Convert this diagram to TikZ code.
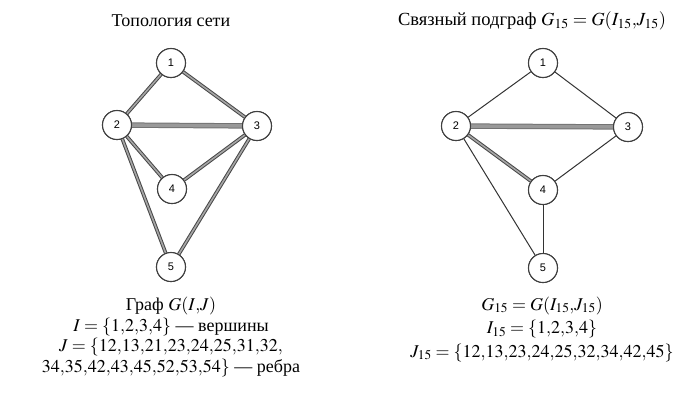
\documentclass[tikz,border=0pt]{standalone}
\usepackage{mathptmx}
\usepackage{fontspec}
\setmainfont{Liberation Serif}
\setsansfont{Liberation Sans}
\usepackage{tikz}
\usetikzlibrary{positioning}
\newcommand{\cm}{\mathord{,}}
\tikzset{
  vtx/.style={draw=black!75, circle, line width=1.1pt, fill=white, minimum size=29pt, inner sep=0pt, font=\sffamily\fontsize{11}{11}\selectfont},
  dbl/.style={draw=black!72, line width=1pt, double=black!35, double distance=1.6pt},
  band/.style={draw=black!55, line width=1pt, double=black!40, double distance=3.4pt},
  link/.style={draw=black!80, line width=1pt},
  caption/.style={align=center, font=\fontsize{18}{20.5}\selectfont}
}

\begin{document}
\begin{tikzpicture}[x=1pt, y=-1pt]
  \useasboundingbox (0,0) rectangle (686,405);
  % network topology
  \node[vtx] (a1) at (171,63) {1};
  \node[vtx] (a2) at (117,125) {2};
  \node[vtx] (a3) at (257,126) {3};
  \node[vtx] (a4) at (172,189) {4};
  \node[vtx] (a5) at (171,267) {5};
  \foreach \a/\b in {a1/a2,a1/a3,a2/a4,a2/a5,a3/a4,a3/a5}
    \draw[dbl] (\a) -- (\b);
  \draw[band] (a2) -- (a3);
  \foreach \n in {1,...,5}
    \node[vtx] at (a\n) {\n};

  % connected subgraph
  \node[vtx] (b1) at (543,63) {1};
  \node[vtx] (b2) at (456,126) {2};
  \node[vtx] (b3) at (628,127) {3};
  \node[vtx] (b4) at (543,190) {4};
  \node[vtx] (b5) at (543,268) {5};
  \foreach \a/\b in {b1/b2,b1/b3,b2/b5,b3/b4,b4/b5}
    \draw[link] (\a) -- (\b);
  \draw[dbl] (b2) -- (b4);
  \draw[band] (b2) -- (b3);
  \foreach \n in {1,...,5}
    \node[vtx] at (b\n) {\n};

  \node[caption] (ttl) at (171,21) {Топология сети};
  \node[caption, font=\fontsize{18.5}{20}\selectfont] (ttr) at (532,21) {Связный подграф $G_{15}=G(I_{15}\cm J_{15})$};
  \node[caption] (capl) at (171,337) {Граф $G(I\cm J)$\\$I=\{1\cm2\cm3\cm4\}$ --- вершины\\$J=\{12\cm13\cm21\cm23\cm24\cm25\cm31\cm32\cm$\\$34\cm35\cm42\cm43\cm45\cm52\cm53\cm54\}$ --- ребра};
  \node[caption, font=\fontsize{18}{23.5}\selectfont] (capr) at (542,329) {$G_{15}=G(I_{15}\cm J_{15})$\\$I_{15}=\{1\cm2\cm3\cm4\}$\\$J_{15}=\{12\cm13\cm23\cm24\cm25\cm32\cm34\cm42\cm45\}$};
\end{tikzpicture}
\end{document}
